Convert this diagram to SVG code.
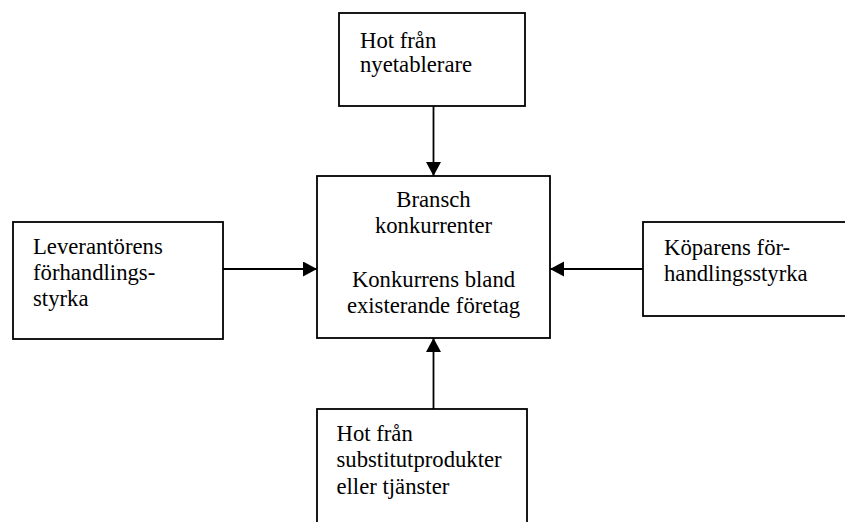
<svg xmlns="http://www.w3.org/2000/svg" width="845" height="522" viewBox="0 0 845 522">
  <style>
    .box { fill: #ffffff; stroke: #000000; stroke-width: 1.8; }
    .lbl { font-family: "Liberation Serif", "Times New Roman", serif; font-size: 22.7px; fill: #000000; }
    .mid { text-anchor: middle; }
    .edge { stroke: #000000; stroke-width: 1.8; fill: none; marker-end: url(#arrow); }
  </style>
  <defs>
    <marker id="arrow" markerUnits="userSpaceOnUse" markerWidth="15" markerHeight="16" refX="14" refY="7.5" orient="auto">
      <path d="M0,0 L14,7.5 L0,15 Z" fill="#000000"/>
    </marker>
  </defs>
  <rect width="845" height="522" fill="#ffffff"/>

  <g id="connectors">
    <line class="edge" x1="433.5" y1="106" x2="433.5" y2="176"/>
    <line class="edge" x1="223" y1="269" x2="317" y2="269"/>
    <line class="edge" x1="643" y1="269" x2="550" y2="269"/>
    <line class="edge" x1="433.5" y1="409" x2="433.5" y2="338"/>
  </g>

  <g id="new-entrants">
    <rect class="box" x="339" y="13" width="186" height="93"/>
    <text class="lbl" x="360" y="47.5">Hot från</text>
    <text class="lbl" x="360" y="72">nyetablerare</text>
  </g>

  <g id="industry">
    <rect class="box" x="317" y="176" width="233" height="162"/>
    <text class="lbl mid" x="433.5" y="206.7">Bransch</text>
    <text class="lbl mid" x="433.5" y="233.4">konkurrenter</text>
    <text class="lbl mid" x="433.5" y="286.8">Konkurrens bland</text>
    <text class="lbl mid" x="433.5" y="313.4">existerande företag</text>
  </g>

  <g id="suppliers">
    <rect class="box" x="13" y="222" width="210" height="117"/>
    <text class="lbl" x="33" y="253.5">Leverantörens</text>
    <text class="lbl" x="33" y="280">förhandlings-</text>
    <text class="lbl" x="33" y="306">styrka</text>
  </g>

  <g id="buyers">
    <rect class="box" x="643" y="222" width="220" height="94"/>
    <text class="lbl" x="664" y="255">Köparens för-</text>
    <text class="lbl" x="664" y="281">handlingsstyrka</text>
  </g>

  <g id="substitutes">
    <rect class="box" x="317" y="409" width="210" height="130"/>
    <text class="lbl" x="336.5" y="441">Hot från</text>
    <text class="lbl" x="336.5" y="467">substitutprodukter</text>
    <text class="lbl" x="336.5" y="493.5">eller tjänster</text>
  </g>
</svg>
